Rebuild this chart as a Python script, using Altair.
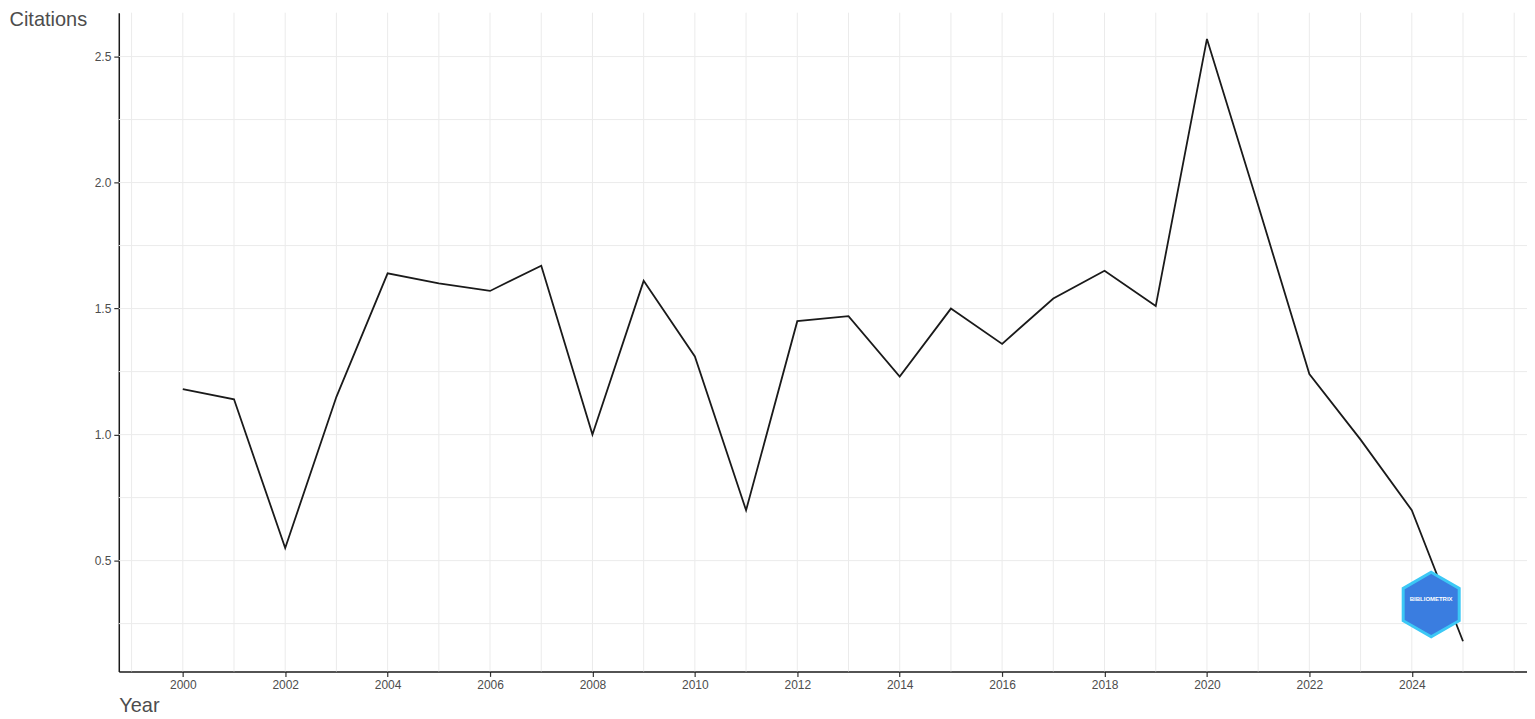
import altair as alt
import pandas as pd

years = list(range(2000, 2026))
citations = [1.18, 1.14, 0.55, 1.15, 1.64, 1.60, 1.57, 1.67, 1.00, 1.61,
             1.31, 0.70, 1.45, 1.47, 1.23, 1.50, 1.36, 1.54, 1.65, 1.51,
             2.57, 1.91, 1.24, 0.98, 0.70, 0.18]
x_ticks = list(range(2000, 2025, 2))
y_ticks = [0.5, 1.0, 1.5, 2.0, 2.5]
x_grid = list(range(1999, 2027))
y_grid = [0.25, 0.5, 0.75, 1.0, 1.25, 1.5, 1.75, 2.0, 2.25, 2.5]

df = pd.DataFrame({"Year": years, "Citations": citations})
gx = pd.DataFrame({"Year": x_grid})
gy = pd.DataFrame({"Citations": y_grid})

xdom = [1998.75, 2026.25]
ydom = [0.0605, 2.674]
xs = alt.Scale(domain=xdom, nice=False, zero=False)
ys = alt.Scale(domain=ydom, nice=False, zero=False)
GRID = "#ebebeb"

xaxis = alt.Axis(values=x_ticks, format="d", title="Year",
                 titleAnchor="start", titleAlign="left", titleX=0, titleY=34,
                 titleBaseline="middle")
yaxis = alt.Axis(values=y_ticks, format=".1f", title="Citations",
                 titleAngle=0, titleAlign="left", titleX=-110, titleY=-3,
                 titleBaseline="top")

vgrid = alt.Chart(gx).mark_rule(color=GRID, strokeWidth=1).encode(
    x=alt.X("Year:Q", scale=xs, axis=xaxis)
)
hgrid = alt.Chart(gy).mark_rule(color=GRID, strokeWidth=1).encode(
    y=alt.Y("Citations:Q", scale=ys, axis=yaxis)
)

line = alt.Chart(df).mark_line(color="#1a1a1a", strokeWidth=1.8).encode(
    x=alt.X("Year:Q", scale=xs, axis=xaxis),
    y=alt.Y("Citations:Q", scale=ys, axis=yaxis),
)

hexpath = "M0,-1 L0.866,-0.5 L0.866,0.5 L0,1 L-0.866,0.5 L-0.866,-0.5 Z"
logo_df = pd.DataFrame({"k": [0]})
logo = alt.Chart(logo_df).mark_point(
    shape=hexpath, size=4200, filled=True, fill="#3a7de0", stroke="#3cc8f5",
    strokeWidth=3, opacity=1
).encode(x=alt.value(1315), y=alt.value(593))
logo_text = alt.Chart(logo_df).mark_text(
    text="BIBLIOMETRIX", fontSize=6, fontWeight="bold", color="white"
).encode(x=alt.value(1315), y=alt.value(587))

chart = alt.layer(vgrid, hgrid, line, logo, logo_text).properties(
    width=1411, height=660,
    autosize=alt.AutoSizeParams(type="none"),
    padding={"left": 111, "top": 4, "right": 0, "bottom": 50},
).configure_view(stroke=None).configure_axis(
    grid=False, domainColor="#1a1a1a", domainWidth=1.5,
    tickColor="#333333", tickSize=5, tickWidth=1.2,
    labelColor="#4d4d4d", labelFontSize=12, labelFont="Liberation Sans",
    labelPadding=3,
    titleColor="#4d4d4d", titleFontSize=20, titleFont="Liberation Sans",
    titleFontWeight="normal",
)

chart.save("out.html", embed_options={"renderer": "svg", "actions": False})
